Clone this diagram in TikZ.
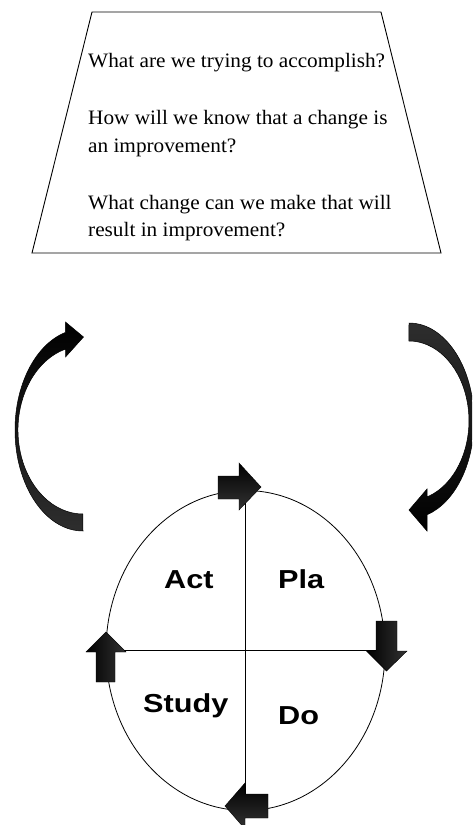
\documentclass[tikz,border=0pt]{standalone}
\usepackage{fontspec}
\usepackage{graphicx}
\setmainfont{Liberation Serif}
\newfontfamily\phasefont{Liberation Sans}
\usetikzlibrary{shapes.geometric}
\begin{document}
\begin{tikzpicture}[x=1pt,y=-1pt,
  outline/.style={draw=black,line width=0.9pt},
  question/.style={anchor=base west,inner sep=0pt,font=\fontsize{20.5}{24}\selectfont},
  phase/.style={anchor=base west,inner sep=0pt,font=\phasefont\bfseries\fontsize{26}{30}\selectfont},
  blockv/.style={draw=black,line width=0.4pt,left color=black,right color=black!80},
  blockh/.style={draw=black,line width=0.4pt,top color=black,bottom color=black!80},
  bentdown/.style={draw=black,line width=0.5pt,top color=black,bottom color=black!82},
  bentup/.style={draw=black,line width=0.5pt,top color=black!82,bottom color=black}]
\useasboundingbox (0,0) rectangle (472,825);
\clip (0,0) rectangle (472,825);

% question box
\draw[outline] (92,12) -- (381,12) -- (441,253) -- (32,253) -- cycle;
\node[question] (q1) at (88,67)  {\scalebox{1.037}[1]{What are we trying to accomplish?}};
\node[question] (q2) at (88,124) {\scalebox{1.037}[1]{How will we know that a change is}};
\node[question] (q3) at (88,152) {\scalebox{1.037}[1]{an improvement?}};
\node[question] (q4) at (88,209) {\scalebox{1.037}[1]{What change can we make that will}};
\node[question] (q5) at (88,236) {\scalebox{1.037}[1]{result in improvement?}};

% left bent arrow, pointing up to the right
\path[bentdown] (83,531)
  arc[start angle=90,end angle=255.08,x radius=68,y radius=101]
  -- (65.5,322) -- (83.5,337) -- (65.5,357) -- (65.5,349.1)
  arc[start angle=254.4,end angle=90,x radius=65,y radius=84]
  -- cycle;

% right bent arrow, pointing down to the left
\path[bentup] (409,323)
  arc[start angle=-90,end angle=73.9,x radius=65,y radius=97.8]
  -- (427,531) -- (409,510) -- (427,489) -- (427,496.9)
  arc[start angle=72.5,end angle=-90,x radius=60,y radius=79.8]
  -- cycle;

% PDSA cycle
\node[ellipse,draw=black,line width=0.8pt,inner sep=0pt,
      minimum width=279pt,minimum height=320pt] (pdsa) at (245.5,650.5) {};
\draw[line width=0.8pt] (pdsa.north) -- (pdsa.south);
\draw[line width=0.8pt] (pdsa.west) -- (pdsa.east);

\node[phase] (act)   at (164,588) {\scalebox{1.18}[1]{Act}};
\node[phase] (plan)  at (278,588) {\scalebox{1.18}[1]{Pla}};
\node[phase] (study) at (143,712) {\scalebox{1.18}[1]{Study}};
\node[phase] (do)    at (278,724) {\scalebox{1.18}[1]{Do}};

% block arrows around the cycle
\path[blockh] (218,476) -- (239,476) -- (239,463) -- (261,487)
  -- (239,510) -- (239,499) -- (218,499) -- cycle;
\path[blockv] (376,621) -- (397,621) -- (397,651) -- (407,651)
  -- (386.5,671) -- (366.5,651) -- (376,651) -- cycle;
\path[blockh] (268,794) -- (245,794) -- (245,783) -- (225,806)
  -- (245,829) -- (245,818) -- (268,818) -- cycle;
\path[blockv] (96,682) -- (96,652) -- (86,652) -- (106,632)
  -- (126,652) -- (115,652) -- (115,682) -- cycle;
\end{tikzpicture}
\end{document}
